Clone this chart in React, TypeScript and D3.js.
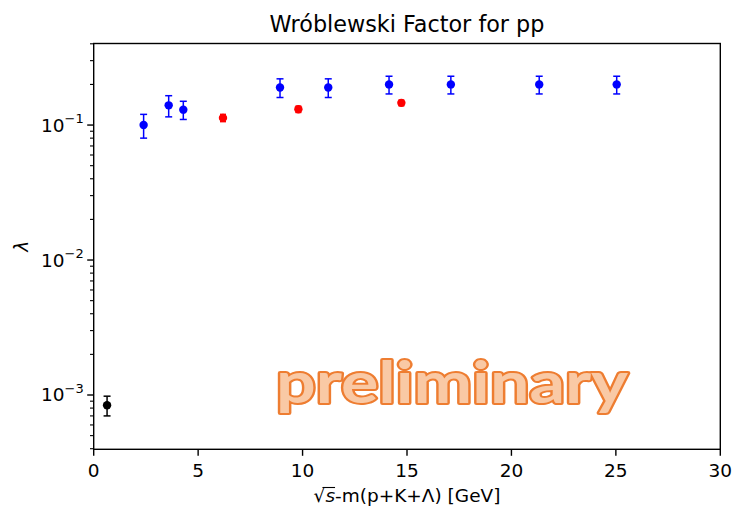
import React, { useLayoutEffect, useRef, useState } from "react";
import * as d3 from "d3";

const blueX = [2.39, 3.59, 4.29, 8.92, 11.23, 14.14, 17.1, 21.33, 25.04];
const blueY = [0.1, 0.14, 0.13, 0.19, 0.19, 0.2, 0.2, 0.2, 0.2];
const blueErr = [0.02, 0.025, 0.02, 0.03, 0.03, 0.03, 0.03, 0.03, 0.03];

const redX = [6.19, 9.8, 14.73];
const redY = [0.113, 0.131, 0.146];
const redErr = [0.007, 0.007, 0.007];

const blackX = [0.64];
const blackY = [0.00084];
const blackErr = [0.00014];

const xTicks = [0, 5, 10, 15, 20, 25, 30];
const yMajor = [1e-3, 1e-2, 1e-1];
const yExp = ["-3", "-2", "-1"];

const W = 733;
const H = 509;
const ml = 93.7;
const mt = 43.5;
const pw = 626.6;
const ph = 405.8;

export default function App() {
  const x = d3.scaleLinear().domain([0, 30]).range([ml, ml + pw]);
  const y = d3.scaleLog().domain([3.96e-4, 0.402]).range([mt + ph, mt]);
  const labelRef = useRef<SVGTextElement>(null);
  const [bar, setBar] = useState<{ x1: number; x2: number; y: number } | null>(null);

  useLayoutEffect(() => {
    const el = labelRef.current;
    if (!el) return;
    try {
      const r = el.getExtentOfChar(0);
      const s = el.getExtentOfChar(1);
      setBar({ x1: r.x + r.width * 0.75, x2: s.x + s.width, y: r.y + 2.5 });
    } catch (e) {}
  }, []);

  const minor: number[] = [];
  for (const d of [1e-4, 1e-3, 1e-2, 1e-1]) {
    for (let k = 2; k <= 9; k++) {
      const v = d * k;
      if (v >= 3.96e-4 && v <= 0.402) minor.push(v);
    }
  }

  const series = [
    { xs: blackX, ys: blackY, es: blackErr, color: "#000000", cap: 3.5 },
    { xs: blueX, ys: blueY, es: blueErr, color: "#0000ff", cap: 3.5 },
    { xs: redX, ys: redY, es: redErr, color: "#ff0000", cap: 3 },
  ];

  const font = "DejaVu Sans, sans-serif";
  const tickFs = 18.5;

  return (
    <svg width={W} height={H} style={{ position: "absolute", left: 0, top: 0 }} xmlns="http://www.w3.org/2000/svg">
      <rect width={W} height={H} fill="#fff" />
      {/* data */}
      {series.map((s, si) => (
        <g key={si}>
          {s.xs.map((xv, i) => {
            const cx = x(xv);
            const y0 = y(s.ys[i] - s.es[i]);
            const y1 = y(s.ys[i] + s.es[i]);
            return (
              <g key={i} stroke={s.color} strokeWidth={1.5}>
                <line x1={cx} x2={cx} y1={y0} y2={y1} />
                <line x1={cx - s.cap} x2={cx + s.cap} y1={y0} y2={y0} />
                <line x1={cx - s.cap} x2={cx + s.cap} y1={y1} y2={y1} />
                <circle cx={cx} cy={y(s.ys[i])} r={4.2} fill={s.color} stroke="none" />
              </g>
            );
          })}
        </g>
      ))}
      {/* watermark */}
      <text
        x={452}
        y={403}
        textAnchor="middle"
        fontFamily="Lato, 'Open Sans', sans-serif"
        fontWeight={700}
        fontSize={57}
        fill="#f9c9a5"
        stroke="#ee7d31"
        strokeWidth={4}
        strokeLinejoin="round"
        paintOrder="stroke"
        textLength={352}
        lengthAdjust="spacingAndGlyphs"
      >
        preliminary
      </text>
      {/* frame */}
      <rect x={ml} y={mt} width={pw} height={ph} fill="none" stroke="#000" strokeWidth={1.4} />
      {/* x ticks */}
      {xTicks.map((t) => (
        <g key={t}>
          <line x1={x(t)} x2={x(t)} y1={mt + ph} y2={mt + ph + 6.5} stroke="#000" strokeWidth={1.4} />
          <text x={x(t)} y={mt + ph + 28} textAnchor="middle" fontFamily={font} fontSize={tickFs} fill="#000">
            {t}
          </text>
        </g>
      ))}
      {/* y ticks */}
      {yMajor.map((t, i) => (
        <g key={t}>
          <line x1={ml - 6.5} x2={ml} y1={y(t)} y2={y(t)} stroke="#000" strokeWidth={1.4} />
          <text x={ml - 10} y={y(t) + 6.5} textAnchor="end" fontFamily={font} fontSize={tickFs} fill="#000">
            10
            <tspan dy={-8.5} fontSize={13}>
              {"\u2212" + yExp[i].slice(1)}
            </tspan>
          </text>
        </g>
      ))}
      {minor.map((t) => (
        <line key={t} x1={ml - 3.7} x2={ml} y1={y(t)} y2={y(t)} stroke="#000" strokeWidth={1.1} />
      ))}
      {/* title */}
      <text x={ml + pw / 2} y={32} textAnchor="middle" fontFamily={font} fontSize={22.3} fill="#000">
        Wróblewski Factor for pp
      </text>
      {/* y label */}
      <text
        transform={`translate(28, ${mt + ph / 2}) rotate(-90)`}
        textAnchor="middle"
        fontFamily={font}
        fontStyle="italic"
        fontSize={tickFs}
        fill="#000"
      >
        λ
      </text>
      {/* x label */}
      <text ref={labelRef} x={ml + pw / 2} y={502} textAnchor="middle" fontFamily={font} fontSize={tickFs} fill="#000">
        √<tspan fontStyle="italic">s</tspan>-m(p+K+Λ) [GeV]
      </text>
      {bar && <line x1={bar.x1} x2={bar.x2} y1={bar.y} y2={bar.y} stroke="#000" strokeWidth={1.1} />}
    </svg>
  );
}
